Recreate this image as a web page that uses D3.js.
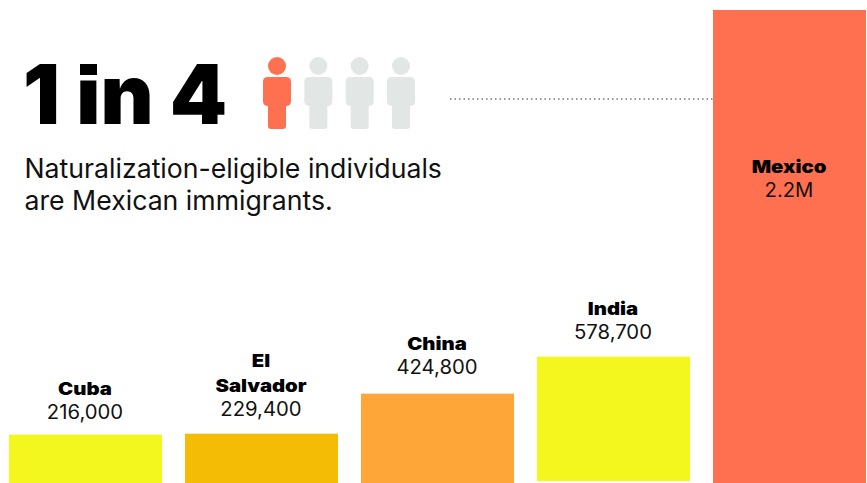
<!DOCTYPE html>
<html>
<head>
<meta charset="utf-8">
<script src="https://cdn.jsdelivr.net/npm/d3@7"></script>
<style>
  html, body { margin: 0; padding: 0; background: #fff; }
  svg { display: block; }
  text { font-family: Inter, "Liberation Sans", sans-serif; fill: #111; }
  .name { font-weight: 900; font-size: 17.5px; fill: #000; }
  .val { font-weight: 400; font-size: 19.5px; }
</style>
</head>
<body>
<svg></svg>
<script>
let countries = ["Cuba", "El Salvador", "China", "India", "Mexico"];
let eligible = [216000, 229400, 424800, 578700, 2200000];
let valueLabels = ["216,000", "229,400", "424,800", "578,700", "2.2M"];
let barColors = ["#f4f71e", "#f4bc04", "#ffa638", "#f4f71e", "#ff7050"];
let people = [1, 0, 0, 0];

let w = 867;
let h = 483;
let base = 483;

let svg = d3.select('svg').attr('width', w).attr('height', h);

let xSc = d3.scaleBand()
            .domain(countries)
            .range([9, 866])
            .paddingInner(23 / 176)
            .paddingOuter(0);

let ySc = d3.scaleLinear()
            .domain([0, 2200000])
            .range([base, 10]);

// the original bars are a px or two off the true scale
let topFix = { "Cuba": -2, "China": 2, "India": -2 };
let bottomFix = { "India": -2 };
let tf = d => topFix[d] || 0;
let bf = d => bottomFix[d] || 0;

// stretch text sideways, the installed fonts run narrower than the original
let stretch = (t, k) => t.attr('textLength', t.node().getComputedTextLength() * k)
                         .attr('lengthAdjust', 'spacingAndGlyphs');

svg.selectAll('rect.bar')
   .data(countries)
   .enter()
   .append('rect')
   .attr('class', 'bar')
   .attr('x', d => xSc(d))
   .attr('y', (d, i) => ySc(eligible[i]) + tf(d))
   .attr('width', xSc.bandwidth())
   .attr('height', (d, i) => base + bf(d) - ySc(eligible[i]) - tf(d))
   .attr('fill', (d, i) => barColors[i]);

// labels
countries.forEach((c, i) => {
  let cx = xSc(c) + xSc.bandwidth() / 2 - 0.5;
  let top = ySc(eligible[i]) + bf(c);
  let valY = c === "Mexico" ? 197 : top - 18;
  let nameLines = c === "El Salvador" ? ["El", "Salvador"] : [c];

  let v = svg.append('text')
     .attr('class', 'val')
     .attr('x', cx)
     .attr('y', valY)
     .attr('text-anchor', 'middle')
     .text(valueLabels[i]);
  stretch(v, 1.04);

  nameLines.slice().reverse().forEach((line, j) => {
    let n = svg.append('text')
       .attr('class', 'name')
       .attr('x', cx)
       .attr('y', valY - 24 - j * 25)
       .attr('text-anchor', 'middle')
       .text(line);
    stretch(n, 1.16);
  });
});

// headline, clipped at cap height so the round i dot can be squared off
svg.append('clipPath')
   .attr('id', 'headClip')
   .append('rect')
   .attr('x', 0)
   .attr('y', 64)
   .attr('width', 260)
   .attr('height', 70);

let head = svg.append('text')
   .attr('x', 23)
   .attr('y', 124)
   .attr('font-size', 83)
   .attr('font-weight', 900)
   .attr('clip-path', 'url(#headClip)')
   .style('fill', '#000')
   .text('1 in 4');
stretch(head, 0.985);

svg.append('rect')
   .attr('x', 78)
   .attr('y', 75)
   .attr('width', 21)
   .attr('height', 5.5)
   .attr('fill', '#fff');
svg.append('rect')
   .attr('x', 80)
   .attr('y', 64)
   .attr('width', 17)
   .attr('height', 11)
   .attr('fill', '#000');

// people icons
let pSc = d3.scalePoint().domain(d3.range(people.length)).range([277, 401]);
let person = svg.selectAll('g.person')
   .data(people)
   .enter()
   .append('g')
   .attr('class', 'person')
   .attr('transform', (d, i) => 'translate(' + pSc(i) + ',0)')
   .attr('fill', d => d ? '#ff7050' : '#e2e6e5');

person.append('circle').attr('cy', 66).attr('r', 9);
person.append('rect').attr('x', -14).attr('y', 77).attr('width', 28).attr('height', 29).attr('rx', 4.5);
person.append('rect').attr('x', -9).attr('y', 90).attr('width', 18).attr('height', 39).attr('rx', 3);

// subtitle
['Naturalization-eligible individuals', 'are Mexican immigrants.'].forEach((t, i) => {
  let s = svg.append('text')
     .attr('x', 24.5)
     .attr('y', 178 + i * 32)
     .attr('font-size', 26.5)
     .text(t);
  stretch(s, 1.006);
});

// dotted leader
svg.append('line')
   .attr('x1', 450)
   .attr('x2', 713)
   .attr('y1', 99)
   .attr('y2', 99)
   .attr('stroke', '#333')
   .attr('stroke-width', 1)
   .attr('stroke-dasharray', '1.5 3');
</script>
</body>
</html>
